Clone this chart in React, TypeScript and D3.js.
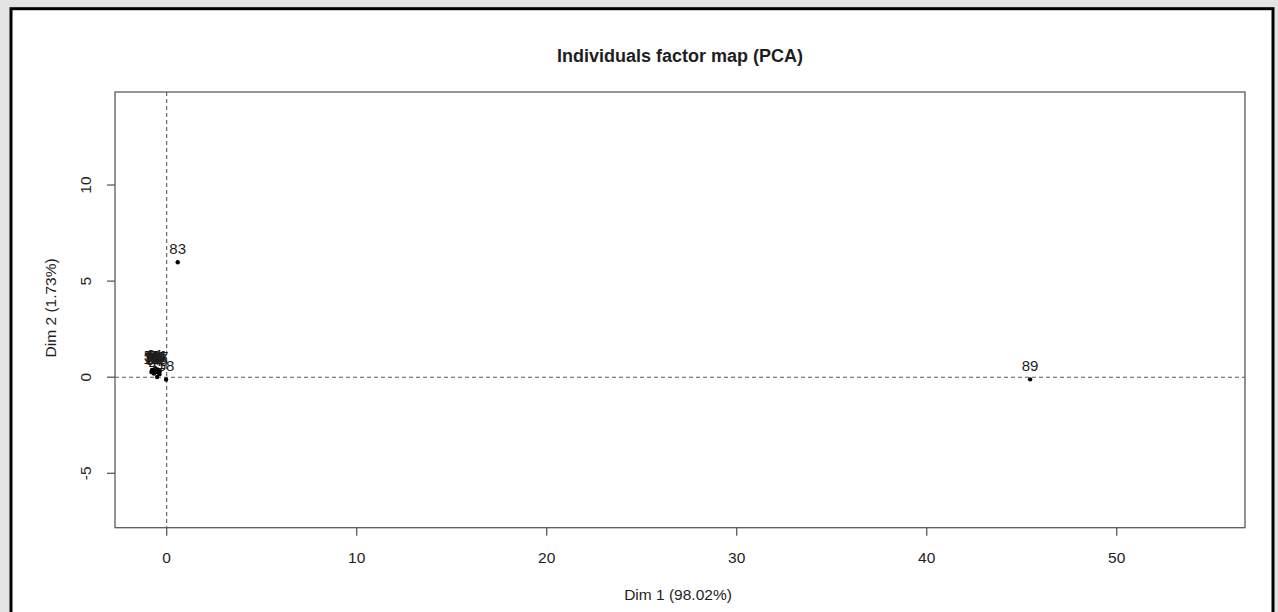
import React from "react";
import * as d3 from "d3";

// individuals: label, Dim 1 coordinate, Dim 2 coordinate
const ids = [
  "3", "12", "19", "26", "31", "37", "44", "50", "56", "64",
  "70", "76", "81", "87", "74", "41", "58", "83", "89",
];
const dim1 = [
  -0.62, -0.71, -0.8, -0.4, -0.74, -0.35, -0.45, -0.6, -0.77, -0.64,
  -0.7, -0.38, -0.61, -0.67, -0.5, -0.5, -0.03, 0.58, 45.44,
];
const dim2 = [
  0.31, 0.24, 0.27, 0.22, 0.33, 0.33, 0.38, 0.26, 0.38, 0.35,
  0.3, 0.16, 0.44, 0.19, 0.4, 0.01, -0.12, 5.98, -0.11,
];

const xTicks = [0, 10, 20, 30, 40, 50];
const yTicks = [-5, 0, 5, 10];
const xDomain = [-2.72, 56.75];
const yDomain = [-7.83, 14.84];

const title = "Individuals factor map (PCA)";
const xTitle = "Dim 1 (98.02%)";
const yTitle = "Dim 2 (1.73%)";

const W = 1278;
const H = 612;
const plot = { left: 115, right: 1245, top: 92, bottom: 527.7 };
const font = "'Liberation Sans', Arial, Helvetica, sans-serif";
const ink = "#1e1e1e";
const axisColor = "#5a5a5a";

const App = () => {
  const x = d3.scaleLinear().domain(xDomain).range([plot.left, plot.right]);
  const y = d3.scaleLinear().domain(yDomain).range([plot.bottom, plot.top]);

  const points = ids.map((id, i) => ({ id, px: x(dim1[i]), py: y(dim2[i]) }));
  const cx = (plot.left + plot.right) / 2;
  const cy = (plot.top + plot.bottom) / 2;

  return (
    <svg
      width={W}
      height={H}
      style={{ position: "absolute", left: 0, top: 0 }}
      fontFamily={font}
    >
      <rect x={0} y={0} width={W} height={H} fill="#e4e4e4" />
      <rect x={11} y={8.7} width={1262} height={700} fill="#fff" stroke="#000" strokeWidth={3} />

      <text x={cx} y={62} textAnchor="middle" fontSize={18} fontWeight="bold" fill={ink}>
        {title}
      </text>

      {/* reference lines at the origin */}
      <line x1={x(0)} x2={x(0)} y1={plot.top} y2={plot.bottom} stroke={axisColor} strokeDasharray="4,3" strokeWidth={1.1} />
      <line x1={plot.left} x2={plot.right} y1={y(0)} y2={y(0)} stroke={axisColor} strokeDasharray="4,3" strokeWidth={1.1} />

      <rect
        x={plot.left}
        y={plot.top}
        width={plot.right - plot.left}
        height={plot.bottom - plot.top}
        fill="none"
        stroke={axisColor}
        strokeWidth={1.3}
      />

      {xTicks.map((t) => (
        <g key={"x" + t}>
          <line x1={x(t)} x2={x(t)} y1={plot.bottom} y2={plot.bottom + 8} stroke={axisColor} strokeWidth={1.3} />
          <text x={x(t)} y={562.5} textAnchor="middle" fontSize={15.5} fill={ink}>
            {t}
          </text>
        </g>
      ))}
      {yTicks.map((t) => (
        <g key={"y" + t}>
          <line x1={plot.left - 8} x2={plot.left} y1={y(t)} y2={y(t)} stroke={axisColor} strokeWidth={1.3} />
          <text
            transform={`translate(90.5,${y(t)}) rotate(-90)`}
            textAnchor="middle"
            fontSize={15.5}
            fill={ink}
          >
            {t}
          </text>
        </g>
      ))}

      <text x={cx - 2} y={600} textAnchor="middle" fontSize={15.5} fill={ink}>
        {xTitle}
      </text>
      <text
        transform={`translate(55.5,${cy - 2}) rotate(-90)`}
        textAnchor="middle"
        fontSize={15.5}
        fill={ink}
      >
        {yTitle}
      </text>

      {points.map((p) => (
        <g key={p.id}>
          <circle cx={p.px} cy={p.py} r={2.2} fill="#000" />
          <text x={p.px} y={p.py - 8.5} textAnchor="middle" fontSize={15} fill={ink}>
            {p.id}
          </text>
        </g>
      ))}
    </svg>
  );
};

export default App;
